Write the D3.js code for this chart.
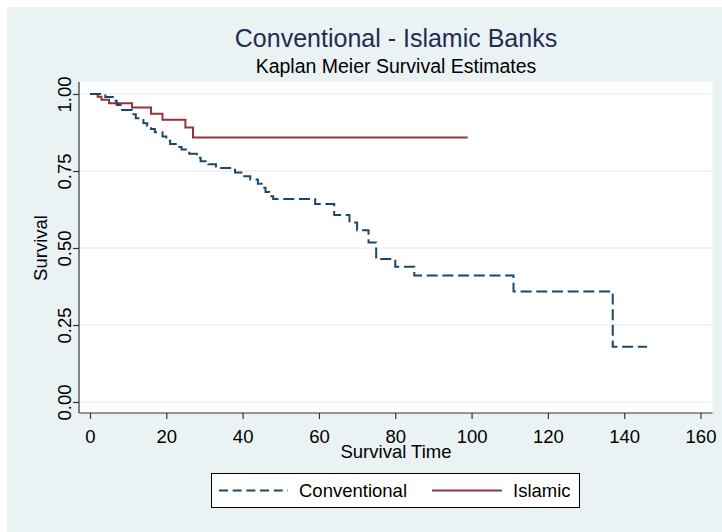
<!DOCTYPE html>
<html>
<head>
<meta charset="utf-8">
<script src="https://cdn.jsdelivr.net/npm/d3@7"></script>
<style>
  body { margin: 0; background: #fff; }
  svg text { font-family: "Liberation Sans", Arial, sans-serif; }
</style>
</head>
<body>
<div id="chart"></div>
<script>
// Kaplan-Meier step data
const convTime = [0, 4, 6, 7, 8, 11, 12, 14, 15, 16, 17, 19, 20, 21, 23, 24, 26, 28, 29, 31, 33, 38, 40, 42, 44, 45, 46, 47, 48, 59, 64, 68, 70, 73, 75, 80, 85, 111, 137, 146];
const convSurv = [1.0, 0.99, 0.978, 0.964, 0.948, 0.934, 0.921, 0.905, 0.896, 0.886, 0.876, 0.862, 0.848, 0.838, 0.828, 0.82, 0.806, 0.793, 0.782, 0.772, 0.76, 0.745, 0.733, 0.722, 0.709, 0.696, 0.682, 0.668, 0.659, 0.643, 0.607, 0.583, 0.558, 0.518, 0.464, 0.439, 0.411, 0.359, 0.179, 0.179];
const islTime = [0, 2, 3, 5, 11, 16, 19, 25, 27, 99];
const islSurv = [1.0, 0.991, 0.981, 0.97, 0.956, 0.936, 0.916, 0.891, 0.859, 0.859];
const xTicks = [0, 20, 40, 60, 80, 100, 120, 140, 160];
const yTicks = [0, 0.25, 0.5, 0.75, 1];
const seriesNames = ['Conventional', 'Islamic'];

const width = 722, height = 532;
const navy = '#1a476f', maroon = '#90353b', bgBlue = '#eaf2f3';

const svg = d3.select('#chart').append('svg')
    .attr('width', width)
    .attr('height', height);

// graph region
svg.append('rect').attr('x', 0).attr('y', 0).attr('width', width).attr('height', height).attr('fill', '#fff');
svg.append('rect').attr('x', 7).attr('y', 7).attr('width', width - 7).attr('height', height - 7).attr('fill', bgBlue);

// plot region
const plot = { left: 79, right: 712.5, top: 82, bottom: 413 };
svg.append('rect')
    .attr('x', plot.left).attr('y', plot.top)
    .attr('width', plot.right - plot.left).attr('height', plot.bottom - plot.top)
    .attr('fill', '#fff');

const x = d3.scaleLinear().domain([0, 160]).range([90, 700.5]);
const y = d3.scaleLinear().domain([0, 1]).range([402, 94]);

// grid lines
svg.append('g')
    .selectAll('line')
    .data(yTicks)
    .enter()
    .append('line')
    .attr('x1', plot.left).attr('x2', plot.right)
    .attr('y1', d => y(d)).attr('y2', d => y(d))
    .style('stroke', bgBlue)
    .style('stroke-width', 1.5);

// axes
const xAxis = svg.append('g')
    .attr('transform', `translate(0,${plot.bottom})`)
    .call(d3.axisBottom(x).tickValues(xTicks).tickFormat(d3.format('d')).tickSize(6).tickSizeOuter(0));
xAxis.select('.domain').attr('d', `M${plot.left},0H${plot.right}`);
xAxis.selectAll('text').attr('dy', 0).attr('y', 30).style('font-size', '18.5px').style('fill', '#000');

const yAxis = svg.append('g')
    .attr('transform', `translate(${plot.left},0)`)
    .call(d3.axisLeft(y).tickValues(yTicks).tickFormat(d3.format('.2f')).tickSize(6).tickSizeOuter(0));
yAxis.select('.domain').attr('d', `M0,${plot.top}V${plot.bottom}`);
yAxis.selectAll('text')
    .attr('x', null).attr('dy', 0)
    .attr('transform', 'translate(-8,0) rotate(-90)')
    .attr('text-anchor', 'middle')
    .style('font-size', '18.5px').style('fill', '#000');

svg.selectAll('.domain, .tick line').style('stroke', '#333').style('stroke-width', 1.2);

// step curves
function stepPath(times, surv) {
    const pts = times.map((t, i) => [t, surv[i]]);
    return d3.line()
        .x(d => x(d[0]))
        .y(d => y(d[1]))
        .curve(d3.curveStepAfter)(pts);
}

svg.append('path')
    .attr('d', stepPath(islTime, islSurv))
    .style('fill', 'none')
    .style('stroke', maroon)
    .style('stroke-width', 2);

svg.append('path')
    .attr('d', stepPath(convTime, convSurv))
    .style('fill', 'none')
    .style('stroke', navy)
    .style('stroke-width', 2)
    .style('stroke-dasharray', '11,4.7');

// titles
svg.append('text')
    .attr('x', 396).attr('y', 47)
    .attr('text-anchor', 'middle')
    .style('font-size', '25px')
    .style('fill', '#1e2d53')
    .text('Conventional - Islamic Banks');

svg.append('text')
    .attr('x', 396).attr('y', 73)
    .attr('text-anchor', 'middle')
    .style('font-size', '19.5px')
    .style('fill', '#000')
    .text('Kaplan Meier Survival Estimates');

svg.append('text')
    .attr('x', 396).attr('y', 458)
    .attr('text-anchor', 'middle')
    .style('font-size', '18.5px')
    .text('Survival Time');

svg.append('text')
    .attr('transform', 'translate(47,248) rotate(-90)')
    .attr('text-anchor', 'middle')
    .style('font-size', '18.5px')
    .text('Survival');

// legend
const legend = svg.append('g');
legend.append('rect')
    .attr('x', 211.5).attr('y', 473.5)
    .attr('width', 368).attr('height', 34)
    .style('fill', '#fff')
    .style('stroke', '#000')
    .style('stroke-width', 1);

const legendItems = [
    { name: seriesNames[0], color: navy, dash: '9,4.7', x1: 219, x2: 288, tx: 299 },
    { name: seriesNames[1], color: maroon, dash: null, x1: 432, x2: 502, tx: 513 }
];
legendItems.forEach(d => {
    legend.append('line')
        .attr('x1', d.x1).attr('x2', d.x2)
        .attr('y1', 490.5).attr('y2', 490.5)
        .style('stroke', d.color)
        .style('stroke-width', 2)
        .style('stroke-dasharray', d.dash);
    legend.append('text')
        .attr('x', d.tx).attr('y', 497)
        .style('font-size', '18.5px')
        .text(d.name);
});
</script>
</body>
</html>
